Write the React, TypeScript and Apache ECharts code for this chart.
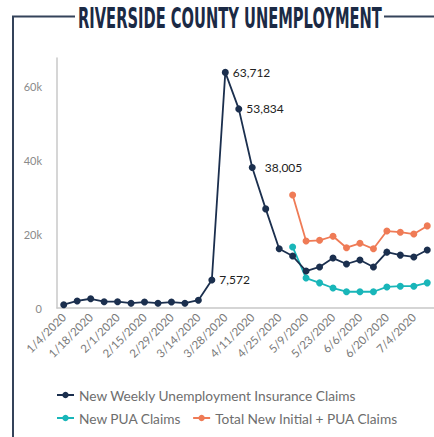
import React, { useEffect, useRef } from "react";
import * as echarts from "echarts";

const weeks = [
  "1/4/2020", "1/11/2020", "1/18/2020", "1/25/2020", "2/1/2020", "2/8/2020", "2/15/2020",
  "2/22/2020", "2/29/2020", "3/7/2020", "3/14/2020", "3/21/2020", "3/28/2020", "4/4/2020",
  "4/11/2020", "4/18/2020", "4/25/2020", "5/2/2020", "5/9/2020", "5/16/2020", "5/23/2020",
  "5/30/2020", "6/6/2020", "6/13/2020", "6/20/2020", "6/27/2020", "7/4/2020", "7/11/2020",
];

const weeklyClaims = [
  900, 1900, 2500, 1700, 1700, 1300, 1600, 1300, 1600, 1300, 2100, 7572, 63712, 53834,
  38005, 26800, 16000, 14050, 10000, 11100, 13500, 11900, 13000, 11100, 15100, 14300,
  13800, 15700,
];

const puaClaims = [
  null, null, null, null, null, null, null, null, null, null, null, null, null, null,
  null, null, null, 16500, 8100, 6800, 5400, 4400, 4400, 4400, 5700, 5900, 5900, 6800,
];

const totalClaims = [
  null, null, null, null, null, null, null, null, null, null, null, null, null, null,
  null, null, null, 30550, 18100, 18300, 19400, 16300, 17500, 16000, 20800, 20500,
  20000, 22200,
];

const labeledValues = [7572, 63712, 53834, 38005];

const seriesNames = [
  "New Weekly Unemployment Insurance Claims",
  "New PUA Claims",
  "Total New Initial + PUA Claims",
];

const titleText = "RIVERSIDE COUNTY UNEMPLOYMENT";

export default function App() {
  const ref = useRef<HTMLDivElement>(null);
  useEffect(() => {
    if (!ref.current) return;
    const chart = echarts.init(ref.current, null, { renderer: "svg" });

    const titleFont = "bold 28px 'Liberation Sans Narrow', 'DejaVu Sans Condensed', sans-serif";
    let scaleX = 0.6;
    try {
      const ctx = document.createElement("canvas").getContext("2d");
      if (ctx) {
        ctx.font = titleFont;
        const w = ctx.measureText(titleText).width;
        scaleX = 304 / w;
      }
    } catch (e) {}

    const fmtNum = (v: number) => v.toLocaleString("en-US");

    const weeklyData = weeklyClaims.map((v) =>
      v === 38005 ? { value: v, label: { distance: 9 } } : v
    );

    const legendText = { color: "#6e6e6e", fontSize: 13.7, fontFamily: "Lato, sans-serif" };

    chart.setOption({
      animation: false,
      backgroundColor: "#ffffff",
      grid: { left: 57, right: -4, top: 58, bottom: 129, containLabel: false },
      xAxis: {
        type: "category",
        data: weeks,
        boundaryGap: true,
        axisLine: { lineStyle: { color: "#c8c8c8", width: 1.5 } },
        axisTick: { show: false },
        axisLabel: {
          interval: 1,
          rotate: 45,
          color: "#7a7a7a",
          fontSize: 11.5,
          fontFamily: "Lato, sans-serif",
          margin: 7,
        },
        splitLine: { show: false },
      },
      yAxis: {
        type: "value",
        min: 0,
        max: 67600,
        interval: 20000,
        axisLine: { show: true, lineStyle: { color: "#c8c8c8", width: 1.5 } },
        axisTick: { show: false },
        splitLine: { show: false },
        axisLabel: {
          color: "#8a8a8a",
          fontSize: 11,
          fontFamily: "Lato, sans-serif",
          margin: 15,
          formatter: (v: number) => (v % 20000 !== 0 ? "" : v === 0 ? "0" : v / 1000 + "k"),
        },
      },
      legend: [
        {
          data: [seriesNames[0]],
          left: 56,
          top: 388,
          padding: 0,
          itemWidth: 17,
          itemHeight: 8,
          itemGap: 11,
          textStyle: legendText,
        },
        {
          data: [seriesNames[1], seriesNames[2]],
          left: 56,
          top: 411,
          padding: 0,
          itemWidth: 17,
          itemHeight: 8,
          itemGap: 11,
          textStyle: legendText,
        },
      ],
      series: [
        {
          name: seriesNames[0],
          type: "line",
          data: weeklyData,
          color: "#1b2f4e",
          symbol: "circle",
          symbolSize: 7,
          lineStyle: { width: 1.8 },
          z: 3,
          label: {
            show: true,
            position: "right",
            distance: 4,
            color: "#222222",
            fontSize: 12,
            fontFamily: "Lato, sans-serif",
            formatter: (p: any) =>
              labeledValues.indexOf(p.value) >= 0 ? fmtNum(p.value) : "",
          },
        },
        {
          name: seriesNames[1],
          type: "line",
          data: puaClaims,
          color: "#19b6b9",
          symbol: "circle",
          symbolSize: 7,
          lineStyle: { width: 1.8 },
          z: 2,
        },
        {
          name: seriesNames[2],
          type: "line",
          data: totalClaims,
          color: "#ef7b56",
          symbol: "circle",
          symbolSize: 7,
          lineStyle: { width: 1.8 },
          z: 2,
        },
      ],
      graphic: [
        {
          type: "polyline",
          shape: { points: [[13, 437], [13, 16.5], [75, 16.5]] },
          style: { stroke: "#34435a", lineWidth: 2, fill: null },
          silent: true,
        },
        {
          type: "line",
          shape: { x1: 384, y1: 16.5, x2: 434, y2: 16.5 },
          style: { stroke: "#34435a", lineWidth: 2 },
          silent: true,
        },
        {
          type: "text",
          x: 78,
          y: 18,
          scaleX: scaleX,
          style: {
            text: titleText,
            font: titleFont,
            fill: "#1b2a45",
            textAlign: "left",
            textVerticalAlign: "middle",
          },
          silent: true,
        },
      ],
    });
    return () => chart.dispose();
  }, []);
  return (
    <div
      ref={ref}
      style={{ position: "fixed", left: 0, top: 0, width: 434, height: 437 }}
    />
  );
}
